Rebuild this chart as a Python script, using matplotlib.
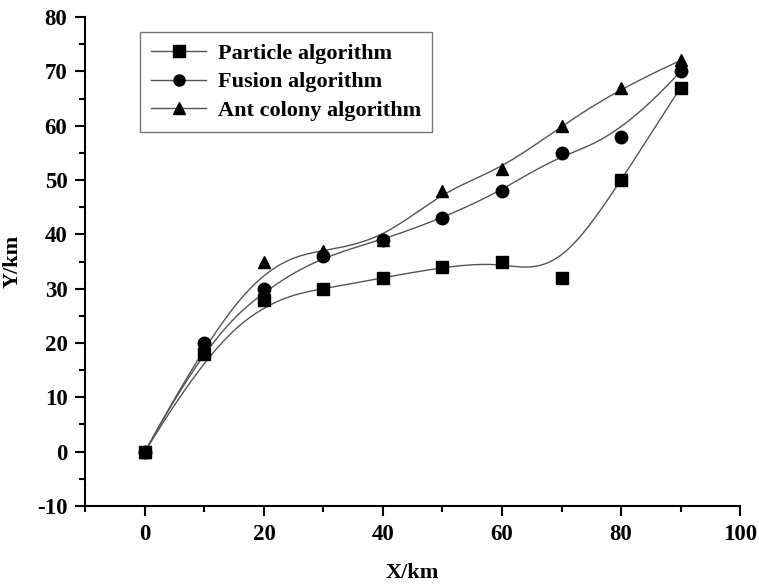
import numpy as np
from matplotlib import pyplot as plt
from matplotlib.ticker import MultipleLocator

plt.rcParams['font.family'] = ['Liberation Serif', 'DejaVu Serif']
plt.rcParams['font.weight'] = 'bold'
plt.rcParams['axes.unicode_minus'] = False

# данные с графика
x_km = [0, 10, 20, 30, 40, 50, 60, 70, 80, 90]
particle = [0, 18, 28, 30, 32, 34, 35, 32, 50, 67]
fusion = [0, 20, 30, 36, 39, 43, 48, 55, 58, 70]
ant_colony = [0, 20, 35, 37, 39, 48, 52, 60, 67, 72]
labels = ['Particle algorithm', 'Fusion algorithm', 'Ant colony algorithm']
markers = ['s', 'o', '^']


# B-сплайн как в Origin: точки данных - контрольные точки
def basis(i, k, t, knots):
    if k == 0:
        return np.where((knots[i] <= t) & (t < knots[i + 1]), 1.0, 0.0)
    res = np.zeros_like(t)
    d1 = knots[i + k] - knots[i]
    if d1 > 0:
        res += (t - knots[i]) / d1 * basis(i, k - 1, t, knots)
    d2 = knots[i + k + 1] - knots[i + 1]
    if d2 > 0:
        res += (knots[i + k + 1] - t) / d2 * basis(i + 1, k - 1, t, knots)
    return res


def bspline(px, py, k=3, n=400):
    m = len(px)
    knots = np.concatenate([np.zeros(k), np.linspace(0, 1, m - k + 1), np.ones(k)])
    t = np.linspace(0, 1 - 1e-9, n)
    bx = np.zeros(n)
    by = np.zeros(n)
    for i in range(m):
        b = basis(i, k, t, knots)
        bx += b * px[i]
        by += b * py[i]
    return bx, by


fig = plt.figure(figsize=(7.59, 5.87), dpi=100)
ax = fig.add_axes([0.1126, 0.138, 0.8624, 0.833])

for ys, mk, lb in zip([particle, fusion, ant_colony], markers, labels):
    sx, sy = bspline(x_km, ys)
    ax.plot(sx, sy, '-', color='#555555', lw=1.0, zorder=2)
    ax.plot(x_km, ys, linestyle='none', marker=mk, color='black',
            markersize=8.5 if mk != 'o' else 9, zorder=3)
    # элемент для легенды
    ax.plot([], [], '-', color='#555555', lw=1.0, marker=mk, markersize=8,
            markerfacecolor='black', markeredgecolor='black', label=lb)

ax.set_xlim(-10, 100)
ax.set_ylim(-10, 80)
ax.xaxis.set_major_locator(MultipleLocator(20))
ax.xaxis.set_minor_locator(MultipleLocator(10))
ax.yaxis.set_major_locator(MultipleLocator(10))
ax.yaxis.set_minor_locator(MultipleLocator(5))
ax.spines['top'].set_visible(False)
ax.spines['right'].set_visible(False)
for s in ['left', 'bottom']:
    ax.spines[s].set_linewidth(1.5)
ax.tick_params(which='major', direction='out', length=7, width=1.5,
               labelsize=16.5, pad=6)
ax.tick_params(which='minor', direction='out', length=4, width=1.5)

ax.set_xlabel('X/km', fontsize=16, fontweight='bold', labelpad=13)
ax.set_ylabel('Y/km', fontsize=16, fontweight='bold', labelpad=10)

leg = ax.legend(loc='upper left', bbox_to_anchor=(0.083, 0.969),
                borderaxespad=0, fancybox=False,
                handlelength=2.5, handletextpad=0.5, labelspacing=0.36,
                borderpad=0.5, prop={'weight': 'bold', 'size': 16})
leg.get_frame().set_edgecolor('#555555')
leg.get_frame().set_linewidth(1.0)

plt.savefig('out.png', dpi=100)
